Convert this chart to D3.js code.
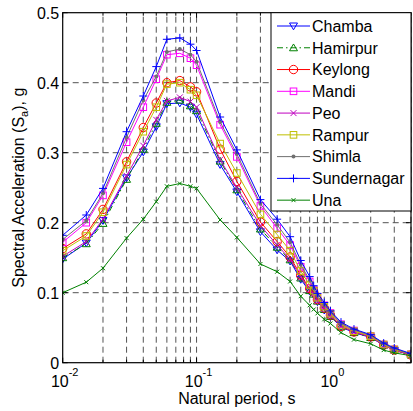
<!DOCTYPE html>
<html><head><meta charset="utf-8">
<script src="https://cdn.jsdelivr.net/npm/d3@7"></script>
<style>body{margin:0;background:#fff}svg{display:block;font-family:"Liberation Sans",Arial,sans-serif}</style>
</head><body><svg id="c" width="413" height="411"></svg>
<script>
const periods = [0.01,0.015,0.02,0.03,0.04,0.05,0.06,0.075,0.09,0.1,0.15,0.2,0.3,0.4,0.5,0.6,0.7,0.75,0.8,0.9,1.0,1.2,1.5,2.0,2.5,3.0,4.0];
const chamba   = [0.148,0.171,0.203,0.264,0.301,0.337,0.370,0.371,0.365,0.355,0.283,0.244,0.187,0.161,0.145,0.119,0.102,0.097,0.087,0.075,0.066,0.051,0.043,0.036,0.025,0.018,0.011];
const hamirpur = [0.150,0.170,0.199,0.262,0.305,0.342,0.372,0.375,0.367,0.360,0.288,0.247,0.191,0.165,0.147,0.121,0.103,0.098,0.088,0.076,0.066,0.051,0.043,0.036,0.025,0.018,0.011];
const keylong  = [0.163,0.184,0.219,0.287,0.336,0.371,0.400,0.403,0.394,0.387,0.305,0.259,0.201,0.173,0.151,0.125,0.106,0.101,0.090,0.078,0.068,0.052,0.044,0.037,0.025,0.018,0.011];
const mandi    = [0.172,0.200,0.239,0.315,0.365,0.405,0.440,0.442,0.435,0.425,0.340,0.294,0.224,0.192,0.168,0.137,0.116,0.104,0.094,0.082,0.071,0.055,0.046,0.038,0.026,0.019,0.012];
const peo      = [0.152,0.173,0.205,0.267,0.310,0.347,0.374,0.379,0.373,0.365,0.290,0.250,0.196,0.168,0.148,0.122,0.104,0.099,0.088,0.077,0.067,0.052,0.044,0.037,0.025,0.018,0.011];
const rampur   = [0.160,0.181,0.215,0.283,0.330,0.365,0.398,0.400,0.390,0.382,0.313,0.271,0.212,0.183,0.160,0.131,0.111,0.103,0.093,0.080,0.070,0.054,0.045,0.038,0.026,0.019,0.012];
const shimla   = [0.176,0.203,0.242,0.322,0.375,0.409,0.444,0.448,0.440,0.430,0.344,0.298,0.227,0.197,0.172,0.140,0.118,0.106,0.096,0.083,0.072,0.056,0.047,0.039,0.027,0.020,0.012];
const sundernagar = [0.182,0.211,0.249,0.330,0.381,0.423,0.462,0.464,0.455,0.446,0.351,0.304,0.233,0.205,0.180,0.146,0.123,0.110,0.099,0.086,0.074,0.058,0.048,0.040,0.028,0.021,0.013];
const una      = [0.100,0.115,0.135,0.178,0.205,0.230,0.252,0.256,0.252,0.249,0.204,0.179,0.141,0.130,0.116,0.095,0.082,0.076,0.0705,0.062,0.056,0.043,0.033,0.027,0.018,0.014,0.010];
const names = ["Chamba","Hamirpur","Keylong","Mandi","Peo","Rampur","Shimla","Sundernagar","Una"];
const yTicks = [0,0.1,0.2,0.3,0.4,0.5];
const yTickLabels = ["0","0.1","0.2","0.3","0.4","0.5"];
const xMajor = [0.01,0.1,1];
const xMajorExp = ["-2","-1","0"];

const seriesData = [chamba,hamirpur,keylong,mandi,peo,rampur,shimla,sundernagar,una];
const styles = [
  {color:"#0000ff", marker:"tri-down", dash:null},
  {color:"#008000", marker:"tri-up", dash:"6,3,1.5,3"},
  {color:"#ff0000", marker:"circle", dash:null},
  {color:"#ff00ff", marker:"square", dash:null},
  {color:"#bf00bf", marker:"x", dash:null},
  {color:"#bfbf00", marker:"square", dash:null},
  {color:"#707070", marker:"dot", dash:null},
  {color:"#0000ff", marker:"plus", dash:null},
  {color:"#008000", marker:"xsmall", dash:null}
];

const L=62.7, R=411, T=12.7, B=362.7;
const svg = d3.select("#c");
const x = d3.scaleLog().domain([0.01,4]).range([L,R]);
const y = d3.scaleLinear().domain([0,0.5]).range([B,T]);

// minor positions
const minor = [];
for (const dec of [0.01,0.1,1]) for (let k=2;k<=9;k++){ const v=dec*k; if(v<=4) minor.push(v); }
const gridX = minor.concat([0.1,1]);

const grid = svg.append("g").attr("stroke","#404040").attr("stroke-width",0.9).attr("stroke-dasharray","6,4");
gridX.forEach(v=>{ grid.append("line").attr("x1",x(v)).attr("x2",x(v)).attr("y1",B).attr("y2",T); });
yTicks.filter(v=>v>0&&v<0.5).forEach(v=>{ grid.append("line").attr("x1",L).attr("x2",R).attr("y1",y(v)).attr("y2",y(v)); });

// ticks
const tk = svg.append("g").attr("stroke","#000").attr("stroke-width",1);
xMajor.forEach(v=>{ tk.append("line").attr("x1",x(v)).attr("x2",x(v)).attr("y1",B).attr("y2",B-5);
  tk.append("line").attr("x1",x(v)).attr("x2",x(v)).attr("y1",T).attr("y2",T+5);});
minor.forEach(v=>{ tk.append("line").attr("x1",x(v)).attr("x2",x(v)).attr("y1",B).attr("y2",B-3);
  tk.append("line").attr("x1",x(v)).attr("x2",x(v)).attr("y1",T).attr("y2",T+3);});
yTicks.forEach(v=>{ tk.append("line").attr("x1",L).attr("x2",L+5).attr("y1",y(v)).attr("y2",y(v));
  tk.append("line").attr("x1",R).attr("x2",R-5).attr("y1",y(v)).attr("y2",y(v));});

// clip
svg.append("clipPath").attr("id","clp").append("rect").attr("x",L).attr("y",T).attr("width",R-L).attr("height",B-T);

function drawMarker(g, m, cx, cy, color){
  const s = g.append("g").attr("transform",`translate(${cx},${cy})`).attr("fill","none").attr("stroke",color).attr("stroke-width",1);
  if(m==="circle") s.append("circle").attr("r",4.2);
  else if(m==="square") s.append("rect").attr("x",-3.3).attr("y",-3.3).attr("width",6.6).attr("height",6.6);
  else if(m==="tri-down") s.append("path").attr("d","M-4,-3L4,-3L0,3.8Z");
  else if(m==="tri-up") s.append("path").attr("d","M-4,3L4,3L0,-3.8Z");
  else if(m==="x") s.append("path").attr("d","M-3,-3L3,3M-3,3L3,-3");
  else if(m==="xsmall") s.append("path").attr("d","M-2,-2L2,2M-2,2L2,-2");
  else if(m==="plus") s.append("path").attr("d","M-4,0L4,0M0,-4L0,4");
  else if(m==="dot") s.append("circle").attr("r",2).attr("fill",color).attr("stroke","none");
}

const plot = svg.append("g").attr("clip-path","url(#clp)");
const line = d3.line().x((d,i)=>x(periods[i])).y(d=>y(d));
seriesData.forEach((arr,si)=>{
  const st = styles[si];
  const g = plot.append("g");
  const p = g.append("path").attr("d",line(arr)).attr("fill","none").attr("stroke",st.color).attr("stroke-width",1);
  if(st.dash) p.attr("stroke-dasharray",st.dash);
  arr.forEach((v,i)=>drawMarker(g, st.marker, x(periods[i]), y(v), st.color));
});

// box
svg.append("rect").attr("x",L).attr("y",T).attr("width",R-L).attr("height",B-T).attr("fill","none").attr("stroke","#000").attr("stroke-width",1.2);

// tick labels
const fs=16;
yTicks.forEach((v,i)=>{ svg.append("text").attr("x",L-3.5).attr("y",y(v)+5.8).attr("text-anchor","end").attr("font-size",fs).text(yTickLabels[i]); });
xMajor.forEach((v,i)=>{ const t=svg.append("text").attr("x",x(v)+2).attr("y",387).attr("text-anchor","middle").attr("font-size",fs);
  t.append("tspan").text("10"); t.append("tspan").attr("dy",-11).attr("font-size",11).text(xMajorExp[i]); });

// axis titles
svg.append("text").attr("x",(L+R)/2).attr("y",404).attr("text-anchor","middle").attr("font-size",fs).text("Natural period, s");
const yt = svg.append("text").attr("transform",`translate(23.5,${(T+B)/2}) rotate(-90)`).attr("text-anchor","middle").attr("font-size",fs);
yt.append("tspan").text("Spectral Acceleration (S");
yt.append("tspan").attr("font-size",11).attr("dy",4).text("a");
yt.append("tspan").attr("dy",-4).text("), g");

// legend
const LX=271, LY=T, LW=R-LX, LH=211-T;
svg.append("rect").attr("x",LX).attr("y",LY).attr("width",LW).attr("height",LH).attr("fill","#fff").attr("stroke","#000").attr("stroke-width",1);
names.forEach((n,i)=>{
  const cy = 26 + i*21.77, st=styles[i];
  const g = svg.append("g");
  const p = g.append("line").attr("x1",277).attr("x2",310).attr("y1",cy).attr("y2",cy).attr("stroke",st.color).attr("stroke-width",1);
  if(st.dash) p.attr("stroke-dasharray",st.dash);
  drawMarker(g, st.marker, 293.5, cy, st.color);
  svg.append("text").attr("x",312).attr("y",cy+5.8).attr("font-size",fs).text(n);
});
</script></body></html>
